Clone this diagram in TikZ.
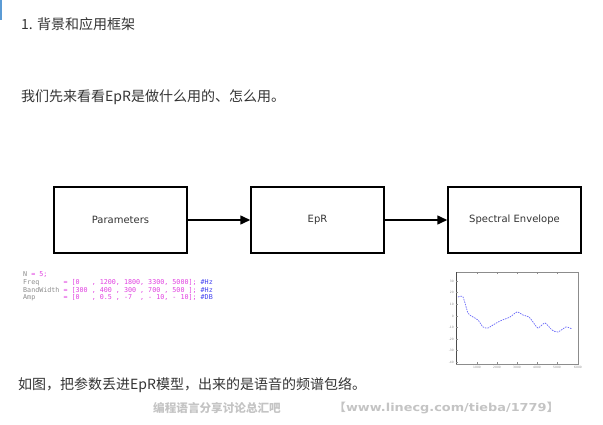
\documentclass[tikz,border=0pt]{standalone}
\usepackage{fontspec}
\setmainfont{Noto Sans CJK SC}
\newfontfamily\cjk{Noto Sans CJK SC}
\newfontfamily\boxfont{DejaVu Sans}
\newfontfamily\codefont{DejaVu Sans Mono}
\newfontfamily\wmlat{DejaVu Sans}
\usetikzlibrary{arrows.meta}
\definecolor{txt}{HTML}{333333}
\definecolor{cg}{HTML}{8C8C8C}
\definecolor{cm}{HTML}{E040E0}
\definecolor{cb}{HTML}{4040F0}
\definecolor{wm}{HTML}{C4C4C4}
\definecolor{bar}{HTML}{5B9BD5}
\definecolor{curve}{HTML}{6868F8}
\tikzset{
  cjktext/.style={anchor=west, inner sep=0pt, text=txt, font=\cjk\fontsize{14}{16}\selectfont},
  blockbox/.style={draw=black, line width=1.5pt, minimum width=133pt, minimum height=66pt, inner sep=0pt, text=txt, font=\boxfont\fontsize{10}{12}\selectfont},
  flow/.style={line width=1.5pt, -{Triangle[length=10pt,width=9pt]}},
  codeline/.style={anchor=west, inner sep=0pt, font=\codefont\fontsize{6.7}{7}\selectfont},
  ticklab/.style={inner sep=0pt, text=cg, font=\boxfont\fontsize{3}{3}\selectfont},
  wmtext/.style={anchor=west, inner sep=0pt, text=wm},
}
\begin{document}
\begin{tikzpicture}[x=1pt, y=-1pt]
\useasboundingbox (0,0) rectangle (603,425);
\fill[bar] (0,0) rectangle (2,20);
% texts
\node[cjktext] (title) at (21,24) {1. 背景和应用框架};
\node[cjktext] (intro) at (21,97) {我们先来看看EpR是做什么用的、怎么用。};
\node[cjktext] (concl) at (18,385) {如图，把参数丢进EpR模型，出来的是语音的频谱包络。};
% blocks
\node[blockbox] (params) at (120.5,220) {Parameters};
\node[blockbox] (epr) at (317.5,220) {EpR};
\node[blockbox] (spec) at (514.5,220) {Spectral Envelope};
\draw[flow] (params.east) -- (epr.west);
\draw[flow] (epr.east) -- (spec.west);
% code
\node[codeline] (c1) at (23,275) {\textcolor{cg}{N}~\textcolor{cm}{=~5;}};
\node[codeline] (c2) at (23,283) {\textcolor{cg}{Freq}~~~~~~\textcolor{cm}{=~[0~~~,~1200,~1800,~3300,~5000];}~\textcolor{cb}{\#Hz}};
\node[codeline] (c3) at (23,290.5) {\textcolor{cg}{BandWidth}~\textcolor{cm}{=~[300~,~400~,~300~,~700~,~500~];}~\textcolor{cb}{\#Hz}};
\node[codeline] (c4) at (23,298) {\textcolor{cg}{Amp}~~~~~~~\textcolor{cm}{=~[0~~~,~0.5~,~-7~~,~-~10,~-~10];}~\textcolor{cb}{\#DB}};
% plot
\draw[color=cg, line width=0.8pt] (456,272) rectangle (578,364);
\draw[color=black!70, line width=1pt] (456,272) -- (456,364);
\foreach \yy/\lab in {281/30,292/20,304/10,316/0,327/-10,339/-20,350/-30,362/-40}{
  \draw[cg, line width=0.3pt] (456,\yy) -- (458,\yy);
  \node[ticklab, anchor=east] at (454,\yy) {\lab};
}
\foreach \xx/\lab in {477/1000,497/2000,517/3000,537/4000,557/5000,578/6000}{
  \draw[cg, line width=0.3pt] (\xx,364) -- (\xx,362);
  \draw[cg, line width=0.3pt] (\xx,272) -- (\xx,274);
  \node[ticklab, anchor=north] at (\xx,366) {\lab};
}
\draw[curve, line width=0.7pt, dash pattern=on 1.5pt off 1pt] plot[smooth, tension=0.4] coordinates {
 (458,297) (463,297) (468,313) (473,317) (478,320) (483,327) (488,328) (493,325)
 (500,321) (510,317) (517,312) (523,315) (529,317) (533,322) (538,328) (545,323)
 (552,330) (558,332) (566,327) (572,329)};
% watermark
\node[wmtext, font=\cjk\bfseries\fontsize{11.6}{12}\selectfont] (wm1) at (153,408) {编程语言分享讨论总汇吧};
\node[wmtext, xscale=1.17, transform shape, font=\wmlat\bfseries\fontsize{11}{12}\selectfont] (wm2) at (333,408) {{\cjk 【}www.linecg.com/tieba/1779{\cjk 】}};
\end{tikzpicture}
\end{document}
